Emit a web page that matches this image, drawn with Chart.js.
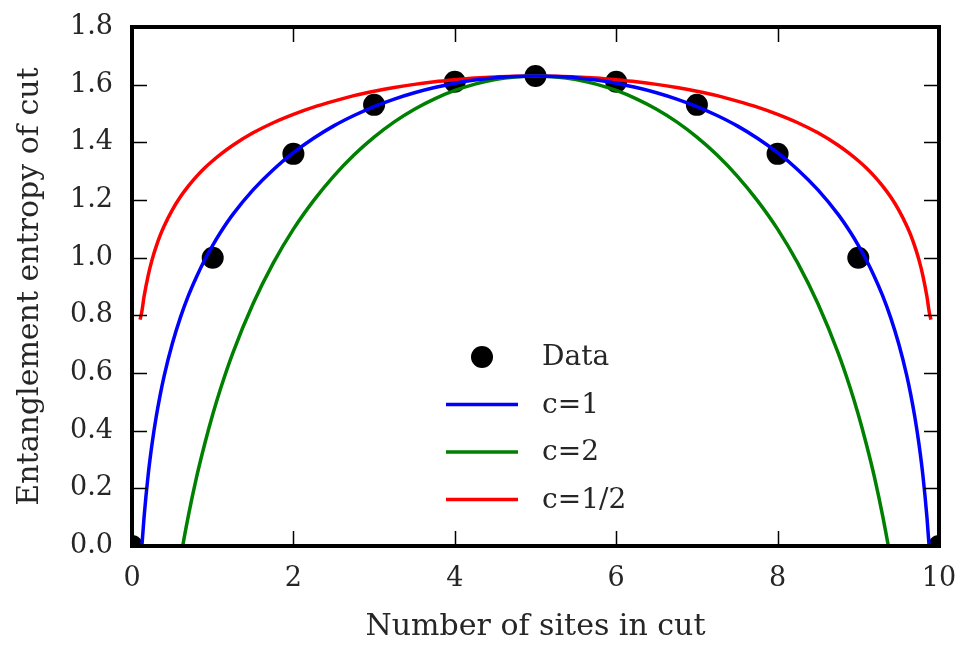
<!DOCTYPE html>
<html>
<head>
<meta charset="utf-8">
<script src="https://cdn.jsdelivr.net/npm/chart.js@4"></script>
<style>
  html, body { margin: 0; padding: 0; background: #fff; }
  #wrap { width: 961px; height: 645px; }
</style>
</head>
<body>
<div id="wrap"><canvas id="entropyChart" width="961" height="645"></canvas></div>
<script>
// measured entanglement entropy per cut position
const siteCuts = [0, 1, 2, 3, 4, 5, 6, 7, 8, 9, 10];
const entropyData = [0, 1.0, 1.36, 1.53, 1.61, 1.63, 1.61, 1.53, 1.36, 1.0, 0];

// fitted curves
const curveX = [0.1, 0.12, 0.15, 0.2, 0.25, 0.3, 0.35, 0.4, 0.5, 0.6, 0.7, 0.8, 0.9, 1, 1.1, 1.25, 1.5, 1.75, 2, 2.25,
  2.5, 2.75, 3, 3.25, 3.5, 3.75, 4, 4.25, 4.5, 4.75, 5, 5.25, 5.5, 5.75, 6, 6.25, 6.5, 6.75, 7, 7.25, 7.5, 7.75,
  8, 8.25, 8.5, 8.75, 8.9, 9, 9.1, 9.2, 9.3, 9.4, 9.5, 9.6, 9.65, 9.7, 9.75, 9.8, 9.85, 9.88, 9.9];
const curveC1 = [-0.100, -0.009, 0.102, 0.246, 0.357, 0.448, 0.525, 0.592, 0.702, 0.793, 0.869, 0.934, 0.992, 1.043,
  1.089, 1.150, 1.235, 1.305, 1.364, 1.414, 1.457, 1.493, 1.524, 1.550, 1.572, 1.590, 1.605, 1.616, 1.624, 1.628,
  1.630,
  1.628, 1.624, 1.616, 1.605, 1.590, 1.572, 1.550, 1.524, 1.493, 1.457, 1.414, 1.364, 1.305, 1.235, 1.150, 1.089,
  1.043, 0.992, 0.934, 0.869, 0.793, 0.702, 0.592, 0.525, 0.448, 0.357, 0.246, 0.102, -0.009, -0.100];
const curveC2 = [-1.831, -1.648, -1.425, -1.138, -0.915, -0.733, -0.580, -0.447, -0.225, -0.045, 0.107, 0.239, 0.353,
  0.456, 0.548, 0.670, 0.840, 0.981, 1.099, 1.198, 1.283, 1.356, 1.418, 1.471, 1.515, 1.551, 1.580, 1.602, 1.618, 1.627,
  1.630,
  1.627, 1.618, 1.602, 1.580, 1.551, 1.515, 1.471, 1.418, 1.356, 1.283, 1.198, 1.099, 0.981, 0.840, 0.670, 0.548,
  0.456, 0.353, 0.239, 0.107, -0.045, -0.225, -0.447, -0.580, -0.733, -0.915, -1.138, -1.425, -1.648, -1.831];
const curveCHalf = [0.785, 0.810, 0.866, 0.938, 0.994, 1.039, 1.078, 1.111, 1.166, 1.211, 1.249, 1.282, 1.311, 1.336,
  1.359, 1.390, 1.433, 1.468, 1.497, 1.522, 1.543, 1.562, 1.577, 1.590, 1.601, 1.610, 1.617, 1.623, 1.627, 1.629,
  1.630,
  1.629, 1.627, 1.623, 1.617, 1.610, 1.601, 1.590, 1.577, 1.562, 1.543, 1.522, 1.497, 1.468, 1.433, 1.390, 1.359,
  1.336, 1.311, 1.282, 1.249, 1.211, 1.166, 1.111, 1.078, 1.039, 0.994, 0.938, 0.866, 0.810, 0.785];

const xTicks = [0, 2, 4, 6, 8, 10];
const yTicks = [0, 0.2, 0.4, 0.6, 0.8, 1.0, 1.2, 1.4, 1.6, 1.8];

const FONT = "'DejaVu Serif', serif";
const TEXT = '#262626';

function toPoints(xs, ys) {
    return xs.map((x, i) => ({ x: x, y: ys[i] }));
}

function curve(label, ys, color) {
    return {
        label: label,
        data: toPoints(curveX, ys),
        showLine: true,
        borderColor: color,
        backgroundColor: color,
        borderWidth: 3.5,
        pointRadius: 0,
        cubicInterpolationMode: 'monotone',
        clip: 0,
        order: 0
    };
}

// frame + inward ticks, like the matplotlib classic look
const framePlugin = {
    id: 'frame',
    afterDatasetsDraw(chart) {
        const { ctx, chartArea: a, scales } = chart;
        ctx.save();
        ctx.strokeStyle = '#000';
        ctx.lineWidth = 1.5;
        ctx.beginPath();
        xTicks.forEach(v => {
            if (v === 0 || v === 10) return;
            const px = Math.round(scales.x.getPixelForValue(v)) + 0.5;
            ctx.moveTo(px, a.bottom); ctx.lineTo(px, a.bottom - 15);
            ctx.moveTo(px, a.top); ctx.lineTo(px, a.top + 15);
        });
        yTicks.forEach(v => {
            if (v === 0 || v === 1.8) return;
            const py = Math.round(scales.y.getPixelForValue(v)) + 0.5;
            ctx.moveTo(a.left, py); ctx.lineTo(a.left + 15, py);
            ctx.moveTo(a.right, py); ctx.lineTo(a.right - 15, py);
        });
        ctx.stroke();
        ctx.lineWidth = 4;
        ctx.strokeRect(a.left, a.top, a.right - a.left, a.bottom - a.top);
        ctx.restore();
    }
};

// legend sits inside the axes, lower centre
const legendPlugin = {
    id: 'innerLegend',
    afterDraw(chart) {
        const { ctx, chartArea: a } = chart;
        const x0 = a.left + 314, x1 = a.left + 386, tx = a.left + 410;
        let y = a.top + 330;
        ctx.save();
        ctx.font = '28px ' + FONT;
        ctx.textBaseline = 'middle';
        const order = [3, 0, 1, 2];
        order.forEach(i => {
            const ds = chart.data.datasets[i];
            if (ds.showLine) {
                ctx.strokeStyle = ds.borderColor;
                ctx.lineWidth = 3.5;
                ctx.beginPath();
                ctx.moveTo(x0, y); ctx.lineTo(x1, y);
                ctx.stroke();
            } else {
                ctx.fillStyle = '#000';
                ctx.beginPath();
                ctx.arc((x0 + x1) / 2, y, 11, 0, Math.PI * 2);
                ctx.fill();
            }
            ctx.fillStyle = TEXT;
            ctx.fillText(ds.label, tx, y + 1);
            y += 47.5;
        });
        ctx.restore();
    }
};

const ctx = document.getElementById('entropyChart').getContext('2d');
const entropyChart = new Chart(ctx, {
    type: 'scatter',
    data: {
        datasets: [
            curve('c=1', curveC1, '#0000ff'),
            curve('c=2', curveC2, '#008000'),
            curve('c=1/2', curveCHalf, '#ff0000'),
            {
                label: 'Data',
                data: toPoints(siteCuts, entropyData),
                pointRadius: 11,
                pointHoverRadius: 11,
                pointBackgroundColor: '#000',
                pointBorderWidth: 0,
                clip: 0,
                order: 10
            }
        ]
    },
    options: {
        responsive: false,
        animation: false,
        events: [],
        layout: { padding: { top: 27, left: 0, right: 22, bottom: 0 } },
        plugins: {
            legend: { display: false },
            tooltip: { enabled: false }
        },
        scales: {
            x: {
                type: 'linear',
                min: 0, max: 10,
                afterBuildTicks: s => { s.ticks = xTicks.map(v => ({ value: v })); },
                afterFit: s => { s.height = 99; s.paddingLeft = 0; s.paddingRight = 0; },
                grid: { display: false, drawTicks: false },
                border: { display: false },
                ticks: {
                    padding: 17,
                    color: TEXT,
                    font: { family: FONT, size: 27 },
                    callback: v => String(v)
                },
                title: {
                    display: true,
                    text: 'Number of sites in cut',
                    color: TEXT,
                    font: { family: FONT, size: 30 },
                    padding: { top: 0, bottom: 0 }
                }
            },
            y: {
                type: 'linear',
                min: 0, max: 1.8,
                afterBuildTicks: s => { s.ticks = yTicks.map(v => ({ value: v })); },
                afterFit: s => { s.width = 132; s.paddingTop = 0; s.paddingBottom = 0; },
                grid: { display: false, drawTicks: false },
                border: { display: false },
                ticks: {
                    padding: 19,
                    color: TEXT,
                    font: { family: FONT, size: 27 },
                    callback: v => Number(v).toFixed(1)
                },
                title: {
                    display: true,
                    text: 'Entanglement entropy of cut',
                    color: TEXT,
                    font: { family: FONT, size: 30 },
                    padding: { top: 12, bottom: 0 }
                }
            }
        }
    },
    plugins: [framePlugin, legendPlugin]
});
</script>
</body>
</html>
